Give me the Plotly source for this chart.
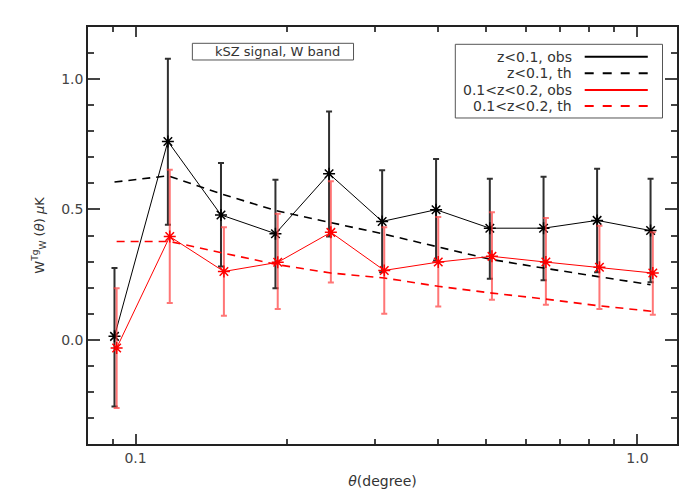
import plotly.graph_objects as go

# angular bins (degree)
theta_z1 = [0.0908, 0.116, 0.148, 0.190, 0.243, 0.310, 0.397, 0.508, 0.650, 0.831, 1.062]
theta_z2 = [0.0917, 0.117, 0.150, 0.192, 0.245, 0.313, 0.401, 0.513, 0.657, 0.840, 1.073]

# z<0.1 observed, with upper/lower error
obs_z1 = [0.013, 0.761, 0.479, 0.407, 0.637, 0.454, 0.499, 0.428, 0.428, 0.458, 0.419]
obs_z1_hi = [0.275, 1.078, 0.678, 0.614, 0.876, 0.650, 0.694, 0.618, 0.625, 0.656, 0.618]
obs_z1_lo = [-0.256, 0.441, 0.281, 0.198, 0.396, 0.259, 0.304, 0.234, 0.228, 0.259, 0.221]
th_z1 = [0.605, 0.629, 0.560, 0.496, 0.451, 0.407, 0.358, 0.309, 0.275, 0.243, 0.211]

# 0.1<z<0.2
obs_z2 = [-0.032, 0.396, 0.262, 0.297, 0.412, 0.266, 0.298, 0.320, 0.298, 0.278, 0.256]
obs_z2_hi = [0.198, 0.652, 0.432, 0.483, 0.608, 0.432, 0.471, 0.489, 0.467, 0.437, 0.412]
obs_z2_lo = [-0.262, 0.141, 0.092, 0.118, 0.220, 0.100, 0.128, 0.153, 0.134, 0.118, 0.096]
th_z2 = [0.377, 0.377, 0.332, 0.288, 0.256, 0.237, 0.205, 0.179, 0.156, 0.130, 0.109]

legend_labels = ['z<0.1, obs', 'z<0.1, th', '0.1<z<0.2, obs', '0.1<z<0.2, th']
legend_colors = ['black', 'black', 'red', 'red']
legend_dash = ['solid', 'dash', 'solid', 'dash']

FONT = 'DejaVu Sans'
TXT = '#333333'


def errs(vals, hi, lo):
    return [h - v for v, h in zip(vals, hi)], [v - l for v, l in zip(vals, lo)]


fig = go.Figure()

up1, dn1 = errs(obs_z1, obs_z1_hi, obs_z1_lo)
fig.add_trace(go.Scatter(
    x=theta_z1, y=obs_z1, mode='lines+markers',
    line=dict(color='black', width=1),
    marker=dict(symbol='asterisk-open', size=10, line=dict(color='black', width=1.5)),
    error_y=dict(type='data', array=up1, arrayminus=dn1, color='#303030', thickness=2, width=3),
))
fig.add_trace(go.Scatter(
    x=theta_z1, y=th_z1, mode='lines',
    line=dict(color='black', width=1.6, dash='8px,6px'),
))

up2, dn2 = errs(obs_z2, obs_z2_hi, obs_z2_lo)
fig.add_trace(go.Scatter(
    x=theta_z2, y=obs_z2, mode='lines+markers',
    line=dict(color='red', width=1),
    marker=dict(symbol='asterisk-open', size=10, line=dict(color='red', width=1.5)),
    error_y=dict(type='data', array=up2, arrayminus=dn2, color='rgba(255,60,60,0.7)', thickness=2, width=3),
))
fig.add_trace(go.Scatter(
    x=theta_z2, y=th_z2, mode='lines',
    line=dict(color='red', width=1.6, dash='8px,6px'),
))

# hand-made legend: text on the left, line sample on the right (IDL style)
fig.add_shape(type='rect', xref='paper', yref='paper', x0=0.6236, x1=0.9754, y0=0.7818, y1=0.9585,
              line=dict(color='#555555', width=1), fillcolor='white', layer='above')
row_y = [0.9288, 0.8890, 0.8489, 0.8106]
for lab, col, dsh, yy in zip(legend_labels, legend_colors, legend_dash, row_y):
    fig.add_annotation(x=0.8247, y=yy, xref='paper', yref='paper', text=lab, showarrow=False,
                       xanchor='right', yanchor='middle', font=dict(family=FONT, size=14, color=TXT))
    fig.add_shape(type='line', xref='paper', yref='paper', x0=0.8433, x1=0.9504, y0=yy, y1=yy,
                  line=dict(color=col, width=2, dash='dash' if dsh == 'dash' else 'solid'))

# title box
fig.add_shape(type='rect', xref='paper', yref='paper', x0=0.1772, x1=0.4508, y0=0.9209, y1=0.9609,
              line=dict(color='#555555', width=1), fillcolor='white')
fig.add_annotation(x=0.3215, y=0.9409, xref='paper', yref='paper', text='kSZ signal, W band',
                   showarrow=False, xanchor='center', yanchor='middle',
                   font=dict(family=FONT, size=13, color=TXT))

axis_common = dict(showgrid=False, zeroline=False, showline=True, linecolor='#222222', linewidth=1.5,
                   mirror='ticks', ticks='inside', tickcolor='#444444', tickwidth=1.5,
                   tickfont=dict(family=FONT, size=14, color='#444444'))

# page body adds an 8px margin, so the figure is shrunk and shifted to compensate
fig.update_layout(
    width=692, height=492,
    paper_bgcolor='white', plot_bgcolor='white',
    showlegend=False,
    margin=dict(l=80, r=23, t=19, b=56),
    xaxis=dict(type='log', range=[-1.0947, 0.0788], tickvals=[0.1, 1.0], ticktext=['0.1', '1.0'],
               ticklen=10,
               minor=dict(tickvals=[0.09, 0.2, 0.3, 0.4, 0.5, 0.6, 0.7, 0.8, 0.9],
                          ticks='inside', ticklen=5, tickcolor='#444444'),
               title=dict(text='<i>θ</i>(degree)', font=dict(family=FONT, size=14, color=TXT), standoff=12),
               **axis_common),
    yaxis=dict(range=[-0.4, 1.2], tickvals=[0.0, 0.5, 1.0], ticktext=['0.0', '0.5', '1.0'],
               ticklen=12,
               minor=dict(dtick=0.1, ticks='inside', ticklen=6, tickcolor='#444444'),
               title=dict(text='W<sup>Tg</sup><sub>W</sub> (<i>θ</i>) <i>μ</i>K',
                          font=dict(family=FONT, size=13, color=TXT), standoff=14),
               **axis_common),
)

fig.write_html('out.html')
